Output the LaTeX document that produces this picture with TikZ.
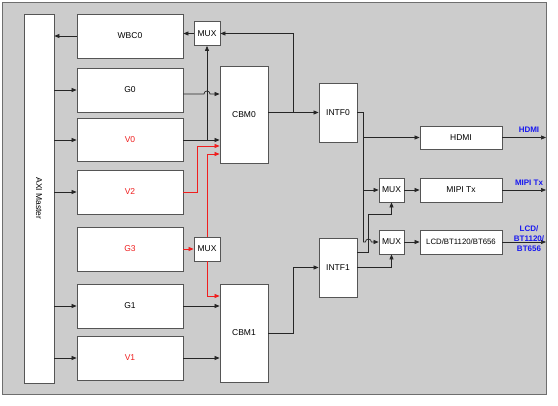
\documentclass[tikz,border=0pt]{standalone}
\usepackage{fontspec}
\setmainfont{Liberation Sans}
\usetikzlibrary{arrows.meta, calc}
\definecolor{panelbg}{RGB}{204,204,204}
\definecolor{panelrim}{RGB}{110,110,110}
\definecolor{boxline}{RGB}{85,85,85}
\definecolor{pathred}{RGB}{240,30,30}
\definecolor{portblue}{RGB}{25,25,240}

\begin{document}
\begin{tikzpicture}[x=1pt, y=-1pt,
        box/.style={draw=boxline, fill=white, line width=0.8pt, inner sep=0pt,
                    font=\fontsize{8.5}{9}\selectfont},
        layer/.style={box, minimum width=106pt, minimum height=44pt},
        mux/.style={box, minimum width=26pt, minimum height=24pt},
        intf/.style={box, minimum width=38pt, minimum height=59pt},
        port/.style={box, minimum width=82pt, minimum height=23pt},
        arr/.style={-{Triangle[length=5pt,width=4pt]}, line width=0.7pt, black!85},
        redarr/.style={arr, pathred},
        outlbl/.style={font=\fontsize{8}{10}\selectfont\bfseries, text=portblue, align=center, inner sep=0pt}
      ]
        \useasboundingbox (0,0) rectangle (558,406);
        \draw[fill=panelbg, draw=panelrim, line width=0.8pt] (2,2) rectangle (546,394);
        \coordinate (rim) at (546,0);

        \node[box, minimum width=30pt, minimum height=369pt] (axi) at (39,198.5) {\rotatebox{-90}{AXI Master}};
        \node[layer] (wbc0) at (130,36)  {WBC0};
        \node[layer] (g0)   at (130,90)  {G0};
        \node[layer, minimum height=43pt, text=pathred] (v0) at (130,140) {V0};
        \node[layer, text=pathred] (v2) at (130,192) {V2};
        \node[layer, text=pathred] (g3) at (130,249) {G3};
        \node[layer] (g1)   at (130,306) {G1};
        \node[layer, text=pathred] (v1) at (130,358) {V1};

        \node[mux] (muxw) at (207,33.5) {MUX};
        \node[mux] (muxg) at (207,249)  {MUX};
        \node[box, minimum width=48pt, minimum height=97pt] (cbm0) at (244,114.5) {CBM0};
        \node[box, minimum width=48pt, minimum height=98pt] (cbm1) at (244,333)   {CBM1};
        \node[intf] (intf0) at (338,112.5) {INTF0};
        \node[intf] (intf1) at (338,267.5) {INTF1};
        \node[mux, minimum width=25pt] (muxm) at (391.5,190) {MUX};
        \node[mux, minimum width=25pt] (muxl) at (391.5,242) {MUX};
        \node[port] (hdmi) at (461,137.5) {HDMI};
        \node[port, minimum height=24pt] (mipi) at (461,190) {MIPI Tx};
        \node[port, minimum height=24pt, font=\fontsize{7.8}{9}\selectfont] (lcd) at (461,242) {LCD/BT1120/BT656};

        % AXI master to layers
        \draw[arr] (wbc0.west) -- (wbc0.west -| axi.east);
        \draw[arr] (axi.east |- g0.west) -- (g0.west); \draw[arr] (axi.east |- v0.west) -- (v0.west);
        \draw[arr] (axi.east |- v2.west) -- (v2.west); \draw[arr] (axi.east |- g1.west) -- (g1.west);
        \draw[arr] (axi.east |- v1.west) -- (v1.west);

        % CBM0 side
        \coordinate (g0o) at ([yshift=-4pt]g0.east);
        \draw[arr] (g0o) -- ($(g0o -| muxw.south)+(-3,0)$) arc[start angle=180, end angle=360, radius=3] -- (g0o -| cbm0.west);
        \draw[arr] (v0.east) -- (v0.east -| cbm0.west);
        \draw[arr] (v0.east -| muxw.south) -- (muxw.south);
        \draw[arr] (muxw.west) -- (muxw.west -| wbc0.east);
        \draw[arr] (cbm0.east |- intf0.west) -- (intf0.west);
        \draw[arr] ($(cbm0.east |- intf0.west)!0.5!(intf0.west)$) |- (muxw.east);
        \draw[redarr] (v2.east) -- ++(14,0) |- ([yshift=-31.5pt]cbm0.west);
        \draw[redarr] (muxg.north) |- ([yshift=-39.5pt]cbm0.west);

        % CBM1 side
        \draw[redarr] (g3.east) -- (muxg.west);
        \draw[redarr] (muxg.south) |- ([yshift=37pt]cbm1.west);
        \draw[arr] (g1.east) -- (g1.east -| cbm1.west);
        \draw[arr] (v1.east) -- (v1.east -| cbm1.west);
        \draw[arr] (cbm1.east) -- ++(25,0) |- (intf1.west);

        % interfaces to outputs
        \coordinate (t0) at ($(intf0.east)+(6,0)$);
        \draw[arr] (intf0.east) -- (t0) |- (hdmi.west);
        \draw[arr] (t0) |- (muxm.west);
        \draw[arr] (t0) -- (t0 |- muxl.west) -- ++(2,0) arc[start angle=180, end angle=360, radius=3] -- (muxl.west);
        \coordinate (t1) at ([yshift=15.5pt]intf1.east);
        \draw[arr] (t1) -- ++(11,0) -- ++(0,-38) -| (muxm.south);
        \draw[arr] (intf1.east) -| (muxl.south);
        \draw[arr] (muxm.east) -- (mipi.west); \draw[arr] (muxl.east) -- (lcd.west);
        \draw[arr] (hdmi.east) -- (hdmi.east -| rim);
        \draw[arr] (mipi.east) -- (mipi.east -| rim);
        \draw[arr] (lcd.east) -- (lcd.east -| rim);

        \node[outlbl] (lblhdmi) at (529,130) {HDMI};
        \node[outlbl] (lblmipi) at (529,183) {MIPI Tx};
        \node[outlbl] (lbllcd)  at (529,239) {LCD/\\BT1120/\\BT656};
      \end{tikzpicture}
\end{document}
